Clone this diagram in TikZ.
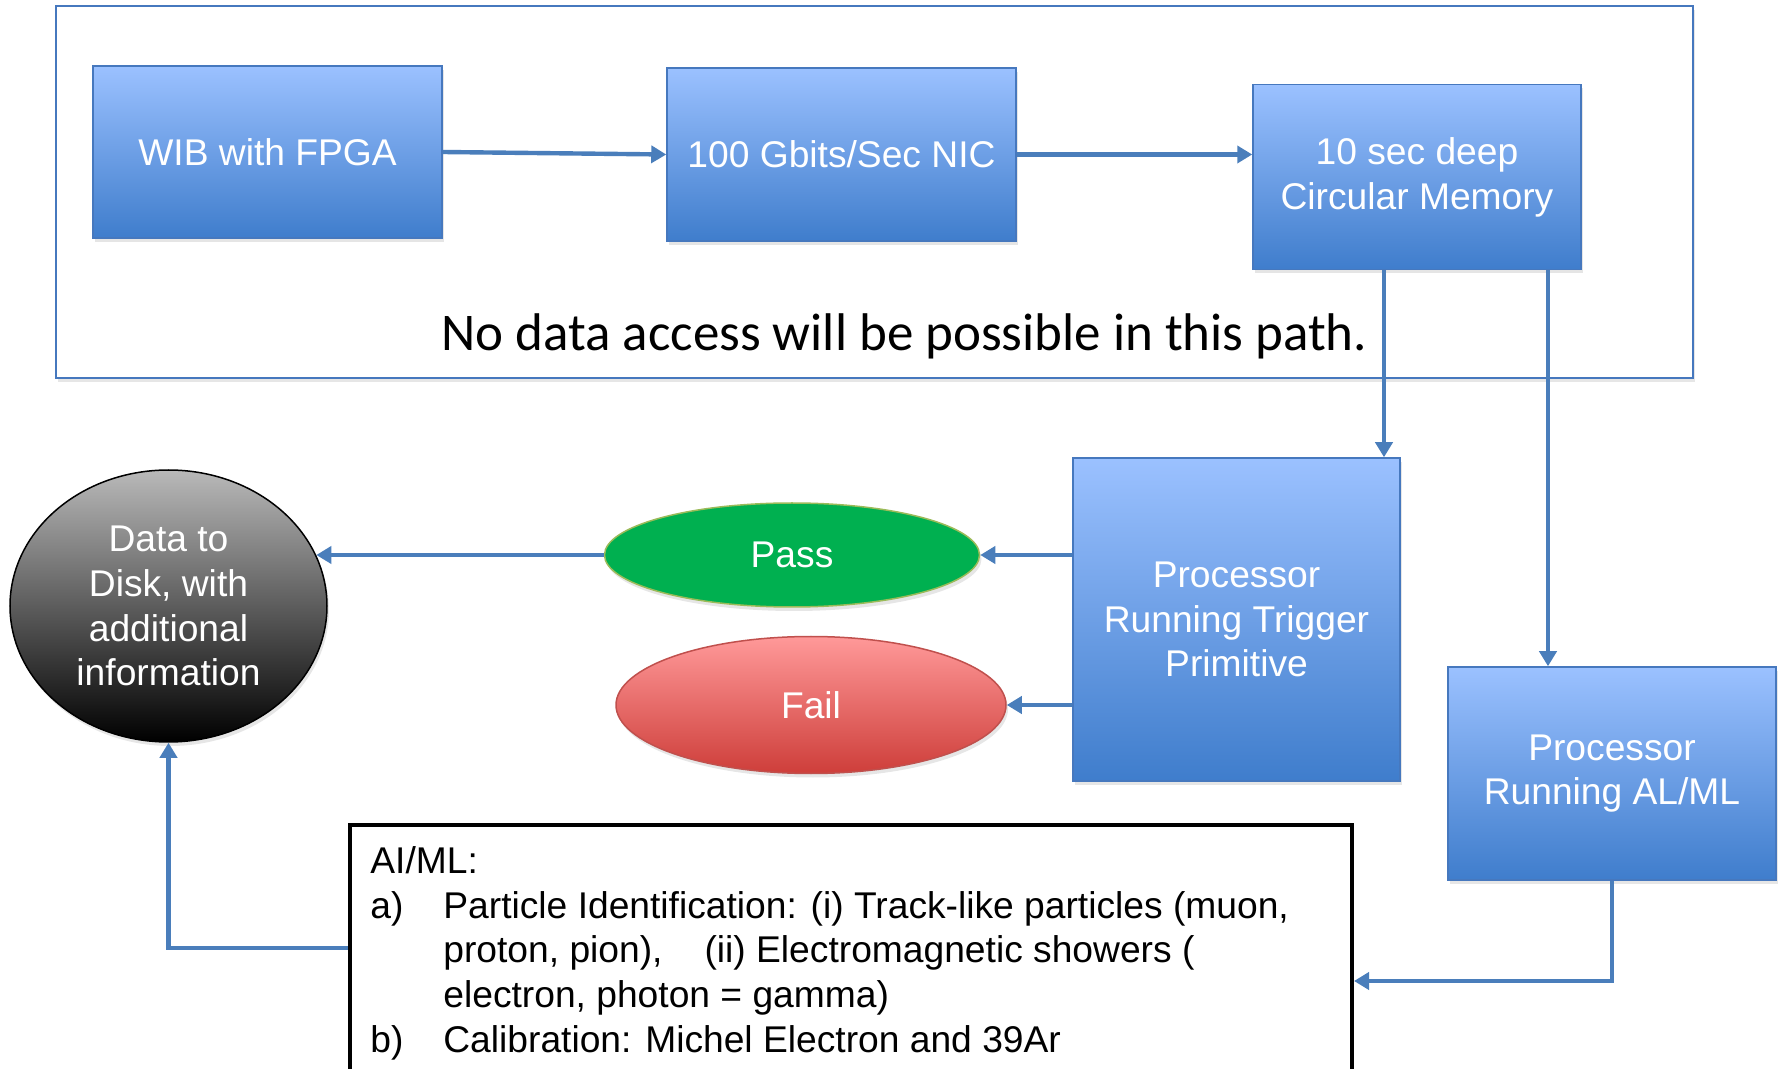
\documentclass[tikz,border=0pt]{standalone}
\usepackage{fontspec}
\setmainfont{Liberation Sans}
\newfontfamily\notefont{Carlito}
\usepackage{xcolor}
\usetikzlibrary{arrows.meta,shapes.geometric,shadows}
\definecolor{boxtop}{RGB}{155,193,255}
\definecolor{boxbot}{RGB}{63,125,204}
\definecolor{boxedge}{RGB}{70,120,190}
\definecolor{arrowblue}{RGB}{74,126,187}
\definecolor{passgreen}{RGB}{0,176,80}
\definecolor{passedge}{RGB}{155,187,89}
\definecolor{failtop}{RGB}{255,153,153}
\definecolor{failbot}{RGB}{206,62,58}
\definecolor{failedge}{RGB}{192,80,77}
\definecolor{disktop}{RGB}{185,185,185}
\newcommand{\boxfont}{\fontsize{18.6pt}{22.4pt}\selectfont}

\begin{document}
\begin{tikzpicture}[x=0.5pt,y=-0.5pt,
  softshadow/.style={drop shadow={shadow xshift=1pt,shadow yshift=-2pt,opacity=0.2}},
  bluebox/.style={rectangle,draw=boxedge,line width=0.75pt,top color=boxtop,bottom color=boxbot,
    text=white,align=center,font=\boxfont,inner sep=0pt,softshadow},
  oval/.style={ellipse,line width=0.75pt,inner sep=0pt,align=center,text=white,font=\boxfont,softshadow},
  arr/.style={draw=arrowblue,line width=2.2pt,-{Triangle[length=7.5pt,width=8.5pt]}}]
\clip (0,0) rectangle (1785,1069);

% path with no data access
\draw[draw=boxedge,line width=1pt,fill=white,softshadow] (56,6) rectangle (1693,378);
\node[bluebox,minimum width=174.5pt,minimum height=86pt] (wib) at (267.5,152) {WIB with FPGA};
\node[bluebox,minimum width=174.5pt,minimum height=86.5pt] (nic) at (841.5,154.5) {100 Gbits/Sec NIC};
\node[bluebox,minimum width=164pt,minimum height=92.5pt] (mem) at (1417,177) {10 sec deep\\Circular Memory};
\node[font=\notefont\fontsize{26.5pt}{32pt}\selectfont,anchor=base] (note) at (904.5,351)
  {No data access will be possible in this path.};

% processors and outcomes
\node[bluebox,minimum width=163.5pt,minimum height=161.5pt] (tp) at (1236.5,619.5) {Processor\\Running Trigger\\Primitive};
\node[bluebox,minimum width=164pt,minimum height=106.5pt] (alml) at (1612,773.5) {Processor\\Running AL/ML};
\node[oval,draw=passedge,fill=passgreen,minimum width=187.5pt,minimum height=52pt] (pass) at (792,555) {Pass};
\node[oval,draw=failedge,top color=failtop,bottom color=failbot,minimum width=195pt,minimum height=68.5pt] (fail) at (811,705) {Fail};
\node[oval,draw=black,top color=disktop,bottom color=black,minimum width=158.5pt,minimum height=136pt] (disk) at (168.5,606)
  {Data to\\Disk, with\\additional\\information};

% AI/ML tasks
\node[draw=black,line width=2pt,fill=white,minimum width=501pt,minimum height=156pt] (aiml) at (851,981) {};
\node[anchor=north west,inner sep=0pt,align=left,font=\boxfont] (aimltext) at (370,841.5) {\strut AI/ML:\\
  \makebox[36.5pt][l]{a)}Particle Identification: (i) Track-like particles (muon,\\
  \hspace*{36.5pt}proton, pion),\hspace{21pt}(ii) Electromagnetic showers (\\
  \hspace*{36.5pt}electron, photon = gamma)\\
  \makebox[36.5pt][l]{b)}Calibration: Michel Electron and 39Ar};

\draw[arr] (wib.east) -- (nic.west);
\draw[arr] (nic.east) -- (nic.east -| mem.west);
\draw[arr] ([xshift=-16.5pt]mem.south) -- ([xshift=-16.5pt]mem.south |- tp.north);
\draw[arr] ([xshift=65.5pt]mem.south) -- ([xshift=65.5pt]mem.south |- alml.north);
\draw[arr] (tp.west |- pass.east) -- (pass.east);
\draw[arr] (tp.west |- fail.east) -- (fail.east);
\draw[arr] (pass.west) -- (pass.west -| disk.19);
\draw[arr] (alml.south) |- (aiml.east);
\draw[arr] ([yshift=16.5pt]aiml.west) -| (disk.south);
\end{tikzpicture}
\end{document}
